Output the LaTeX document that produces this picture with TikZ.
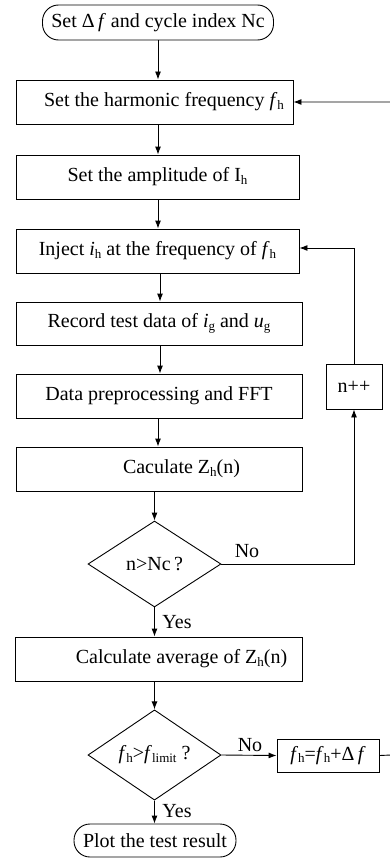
\documentclass[tikz,border=0pt]{standalone}
\usepackage{fontspec}
\setmainfont{Liberation Serif}
\usetikzlibrary{shapes.geometric,arrows.meta,calc}
\newcommand\sbs[1]{\raisebox{-0.25ex}{\fontsize{13}{13}\selectfont #1}}
\begin{document}
\begin{tikzpicture}[x=1pt,y=-1pt,
  every node/.style={font=\fontsize{20}{24}\selectfont},
  box/.style={draw, line width=0.9pt, minimum height=44pt, inner sep=0pt},
  term/.style={draw, line width=0.9pt, rounded corners=16pt, inner sep=0pt},
  dec/.style={draw, diamond, line width=0.9pt, minimum width=133pt, minimum height=86pt, inner sep=0pt},
  arr/.style={-{Latex[length=8pt,width=6pt]}, line width=0.9pt},
  lbl/.style={inner sep=0pt}
]
\useasboundingbox (0,0) rectangle (390,859);

\node[term, minimum width=231pt, minimum height=35pt] (start) at (158,22.5) {Set Δ\,\textit{f} and cycle index Nc};
\node[box, minimum width=277pt] (b1) at (154.5,102) {\hspace*{19pt}Set the harmonic frequency \textit{f}\sbs{h}};
\node[box, minimum width=283pt] (b2) at (157.5,177) {Set the amplitude of I\sbs{h}};
\node[box, minimum width=283pt] (b3) at (157.5,251) {Inject \textit{i}\sbs{h} at the frequency of \textit{f}\sbs{h}};
\node[box, minimum width=286pt, minimum height=43pt] (b4) at (159,323.5) {Record test data of \textit{i}\sbs{g} and \textit{u}\sbs{g}};
\node[box, minimum width=286pt] (b5) at (159,396) {Data preprocessing and FFT};
\node[box, minimum width=286pt] (b6) at (159,469) {\hspace*{45pt}Caculate Z\sbs{h}(n)};
\node[dec] (d1) at (154.5,564) {n>Nc\,?};
\node[box, minimum width=287pt] (b7) at (158.5,659) {\hspace*{46pt}Calculate average of Z\sbs{h}(n)};
\node[dec] (d2) at (154.5,755) {\textit{f}\sbs{h}>\textit{f}\sbs{limit} ?};
\node[box, minimum width=102pt, minimum height=33pt] (inc) at (328,755.5) {\textit{f}\sbs{h}=\textit{f}\sbs{h}+Δ\,\textit{f}};
\node[box, minimum width=56pt, minimum height=45pt] (npp) at (354,386.5) {n++};
\node[term, minimum width=162pt, minimum height=33pt] (stop) at (155,840.5) {Plot the test result};

\coordinate (xa) at (158,0);
\coordinate (xb) at (160,0);
\coordinate (r1) at (354,564);
\coordinate (r2) at (354,248);
\coordinate (r3) at (391,755);
\coordinate (r4) at (391,102);

\draw[arr] (start.south) -- (start.south |- b1.north);
\draw[arr] (b1.south -| xa) -- (b2.north -| xa);
\draw[arr] (b2.south -| xa) -- (b3.north -| xa);
\draw[arr] (b3.south -| xb) -- (b4.north -| xb);
\draw[arr] (b4.south -| xb) -- (b5.north -| xb);
\draw[arr] (b5.south -| xa) -- (b6.north -| xa);
\draw[arr] (b6.south -| d1.north) -- (d1.north);
\draw[arr] (d1.south) -- (d1.south |- b7.north);
\draw[arr] (b7.south -| d2.north) -- (d2.north);
\draw[arr] (d2.south) -- (d2.south |- stop.north);

\draw[arr] (d1.east) -- (r1) -- (npp.south);
\draw[arr] (npp.north) -- (r2) -- (b3.east |- r2);
\draw[arr] (d2.east) -- (inc.west);
\draw[arr] (inc.east) -- (r3) -- (r4) -- (b1.east |- r4);

\node[lbl] (no1) at (247,551) {No};
\node[lbl] (yes1) at (177,622) {Yes};
\node[lbl] (no2) at (250,745) {No};
\node[lbl] (yes2) at (177,811) {Yes};
\end{tikzpicture}
\end{document}
